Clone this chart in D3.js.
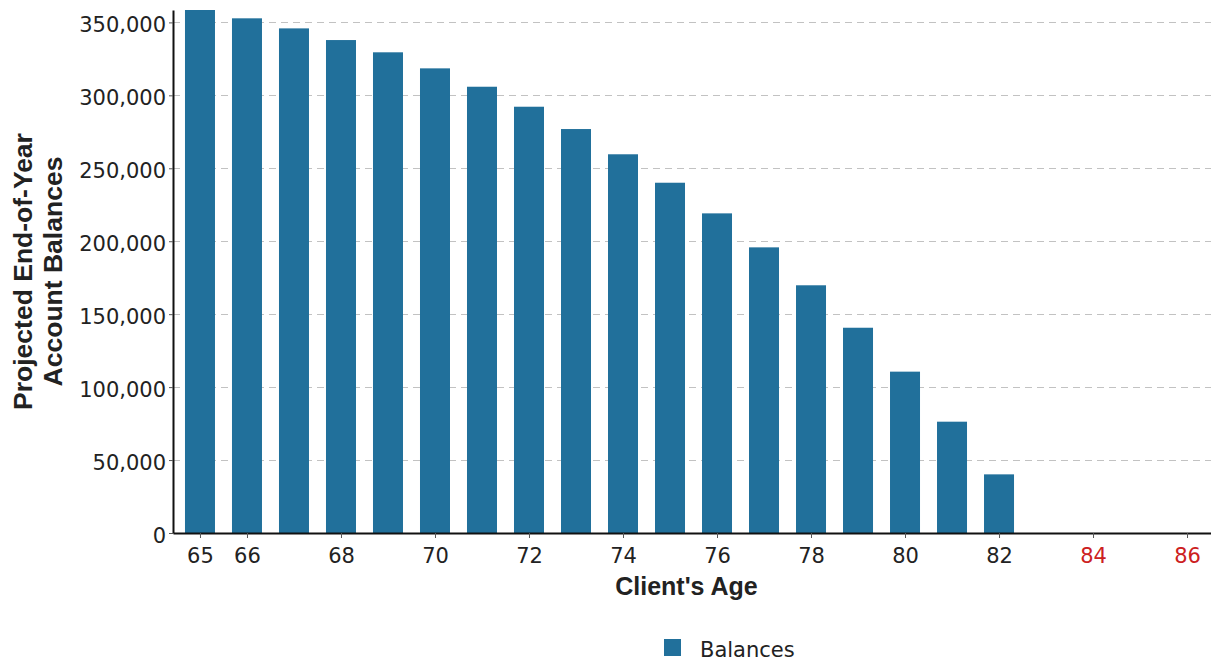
<!DOCTYPE html>
<html>
<head>
<meta charset="utf-8">
<script src="https://cdn.jsdelivr.net/npm/d3@7/dist/d3.min.js"></script>
<style>
  html, body { margin: 0; padding: 0; background: #ffffff; }
  svg { display: block; }
</style>
</head>
<body>
<svg id="chart" width="1211" height="662"></svg>
<script>
// ---- Data ----
const ages = [65, 66, 67, 68, 69, 70, 71, 72, 73, 74, 75, 76, 77, 78, 79, 80, 81, 82];
const balances = [358500, 352800, 345900, 337900, 329500, 318500, 305900, 292200, 276900,
                  259600, 240100, 219100, 195800, 169800, 140700, 110600, 76300, 40200];
const xTickAges = [65, 66, 68, 70, 72, 74, 76, 78, 80, 82, 84, 86];
const depletedAges = [84, 86];
const yTickValues = [0, 50000, 100000, 150000, 200000, 250000, 300000, 350000];
const seriesName = "Balances";
const xTitle = "Client's Age";
const yTitleLines = ["Projected End-of-Year", "Account Balances"];

// ---- Layout ----
const plotLeft = 173, plotTop = 10, plotBottom = 533, plotRight = 1211;
const barColor = "#21709b";

const svg = d3.select("#chart");

const x = d3.scaleLinear().domain([64.426, 86.51]).range([plotLeft, plotRight]);
const y = d3.scaleLinear().domain([0, d3.max(balances)]).range([plotBottom, plotTop]);
const barW = 30;

// gridlines
svg.append("g")
  .selectAll("line")
  .data(yTickValues.filter(d => d > 0))
  .join("line")
  .attr("x1", plotLeft).attr("x2", plotRight)
  .attr("y1", d => Math.round(y(d)) + 0.5).attr("y2", d => Math.round(y(d)) + 0.5)
  .attr("stroke", "#c2c2c2")
  .attr("stroke-width", 1.2)
  .attr("stroke-dasharray", "7,5");

// bars
svg.append("g")
  .selectAll("rect")
  .data(ages.map((a, i) => ({ age: a, v: balances[i] })))
  .join("rect")
  .attr("x", d => x(d.age) - barW / 2)
  .attr("width", barW)
  .attr("y", d => y(d.v))
  .attr("height", d => y(0) - y(d.v))
  .attr("fill", barColor);

// y axis
const yAxis = svg.append("g")
  .attr("transform", `translate(${plotLeft},0)`)
  .call(d3.axisLeft(y).tickValues(yTickValues).tickFormat(d3.format(",")).tickSize(4).tickPadding(3).tickSizeOuter(0));
yAxis.select(".domain").attr("stroke", "#111").attr("stroke-width", 2);
yAxis.selectAll(".tick line").attr("stroke", "#555");
yAxis.selectAll(".tick text")
  .attr("font-family", "'DejaVu Sans', sans-serif")
  .attr("font-size", 21)
  .attr("fill", "#222")
  .attr("dy", "0.45em");

// x axis
const xAxis = svg.append("g")
  .attr("transform", `translate(0,${plotBottom})`)
  .call(d3.axisBottom(x).tickValues(xTickAges).tickFormat(d3.format("d")).tickSize(5).tickPadding(10).tickSizeOuter(0));
xAxis.select(".domain").attr("stroke", "#111").attr("stroke-width", 2);
xAxis.selectAll(".tick line").attr("stroke", "#555");
xAxis.selectAll(".tick text")
  .attr("font-family", "'DejaVu Sans', sans-serif")
  .attr("font-size", 21)
  .attr("fill", d => depletedAges.includes(d) ? "#cc2020" : "#222");

// x title
svg.append("text")
  .attr("x", (plotLeft + 1200) / 2)
  .attr("y", 595)
  .attr("text-anchor", "middle")
  .attr("font-family", "'Liberation Sans', Arial, sans-serif")
  .attr("font-weight", "bold")
  .attr("font-size", 25)
  .attr("fill", "#222")
  .text(xTitle);

// y title
const yt = svg.append("text")
  .attr("transform", `translate(32,${(plotTop + plotBottom) / 2}) rotate(-90)`)
  .attr("text-anchor", "middle")
  .attr("font-family", "'Liberation Sans', Arial, sans-serif")
  .attr("font-weight", "bold")
  .attr("font-size", 26.5)
  .attr("fill", "#222");
yTitleLines.forEach((t, i) => {
  yt.append("tspan").attr("x", 0).attr("y", i * 30).text(t);
});

// legend
const lg = svg.append("g").attr("transform", "translate(664,639)");
lg.append("rect").attr("width", 17).attr("height", 17).attr("fill", barColor);
lg.append("text")
  .attr("x", 36).attr("y", 18)
  .attr("font-family", "'DejaVu Sans', sans-serif")
  .attr("font-size", 21)
  .attr("fill", "#222")
  .text(seriesName);
</script>
</body>
</html>
